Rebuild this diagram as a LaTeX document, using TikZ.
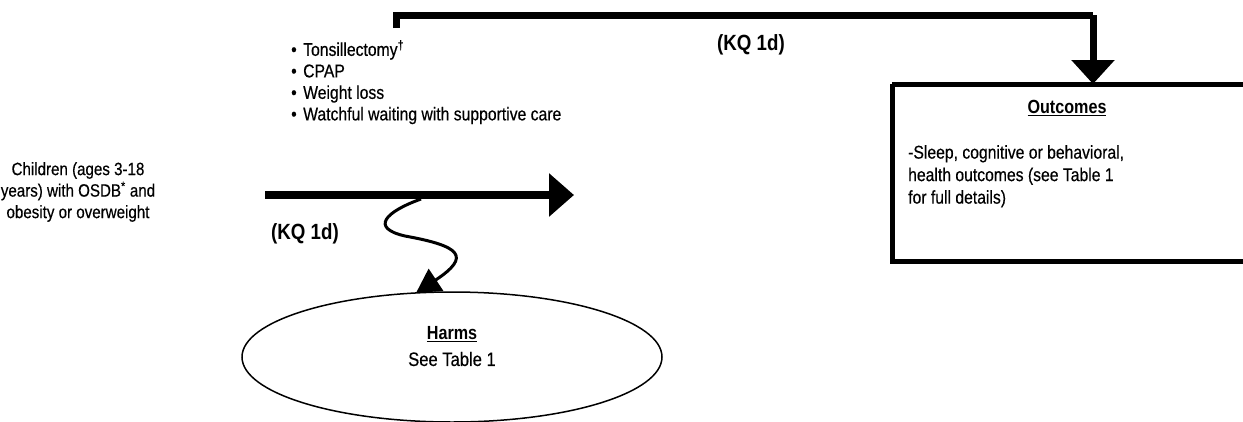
\documentclass[tikz,border=0pt]{standalone}
\usepackage{fontspec}
\setmainfont{Liberation Sans}
\newfontfamily\narrowsans[FakeStretch=0.85,FakeBold=0.4]{Liberation Sans}
\newfontfamily\narrowbold[FakeStretch=0.85]{Liberation Sans Bold}
\usetikzlibrary{arrows.meta,shapes.geometric}
\tikzset{
  txt/.style={inner sep=0pt, font=\narrowsans\fontsize{18.5}{21.5}\selectfont},
  kq/.style={inner sep=0pt, font=\narrowbold\fontsize{22}{24}\selectfont},
  head/.style={inner sep=0pt, font=\narrowbold\fontsize{19}{22}\selectfont},
  bigflow/.style={line width=8pt, -{Triangle[length=25pt,width=42pt]}},
  linkline/.style={line width=7pt},
  harmflow/.style={line width=3pt, -{Triangle[length=24pt,width=26pt]}},
  outbox/.style={draw, line width=5pt},
}
\newcommand{\ul}[1]{\underline{#1}}
\newcommand{\blt}{\makebox[12pt][l]{\textbullet}}
\begin{document}
\begin{tikzpicture}[x=1pt,y=-1pt]
\useasboundingbox (0,0) rectangle (1243,421);
\fill[white] (0,0) rectangle (1243,421);

% population
\node[txt, align=center, font=\narrowsans\fontsize{17.8}{21.5}\selectfont] (pop) at (78,192)
  {Children (ages 3-18\\years) with OSDB\textsuperscript{*} and\\obesity or overweight};

% interventions list
\node[txt, align=left, anchor=north west] (ints) at (291,40)
  {\blt Tonsillectomy\textsuperscript{\dag}\\
   \blt CPAP\\
   \blt Weight loss\\
   \blt Watchful waiting with supportive care};

% outcomes box (runs off the right edge)
\draw[outbox] (892,84) -- (1270,84) (892,84) -- (892,261) -- (1270,261);
\coordinate (boxtop) at (1093,84);
\node[head] (outt) at (1067,108) {\ul{Outcomes}};
\node[txt, align=left, anchor=north west, font=\narrowsans\fontsize{18.5}{22.5}\selectfont] (outx) at (908,145)
  {-Sleep, cognitive or behavioral,\\health outcomes (see Table 1\\for full details)};

% harms ellipse
\node[draw, ellipse, line width=1.5pt, minimum width=420pt, minimum height=130pt] (harms) at (452,357) {};
\node[head] (harmt) at (452,334) {\ul{Harms}};
\node[txt, font=\narrowsans\fontsize{19.5}{22}\selectfont] (harmx) at (452,359) {See Table 1};

% key question labels
\node[kq] (kqa) at (751,45) {(KQ 1d)};
\node[kq] (kqb) at (305,234) {(KQ 1d)};

% main flow arrow
\coordinate (fs) at (265,195);
\coordinate (fe) at (574,195);
\draw[bigflow] (fs) -- (fe);

% link to outcomes
\coordinate (ls) at (396,28);
\coordinate (lc) at (396,15);
\coordinate (rc) at (1093,15);
\draw[linkline, line cap=butt] (ls) -- (lc) -- (rc);
\draw[linkline, -{Triangle[length=24pt,width=42pt]}] (rc) -- (boxtop);

% wavy arrow to harms
\coordinate (ws) at (421,199);
\coordinate (we) at (416,293);
\draw[harmflow] (ws) .. controls (385,212) and (370,228) .. (405,236)
  .. controls (460,246) and (472,256) .. (we);
\end{tikzpicture}
\end{document}
